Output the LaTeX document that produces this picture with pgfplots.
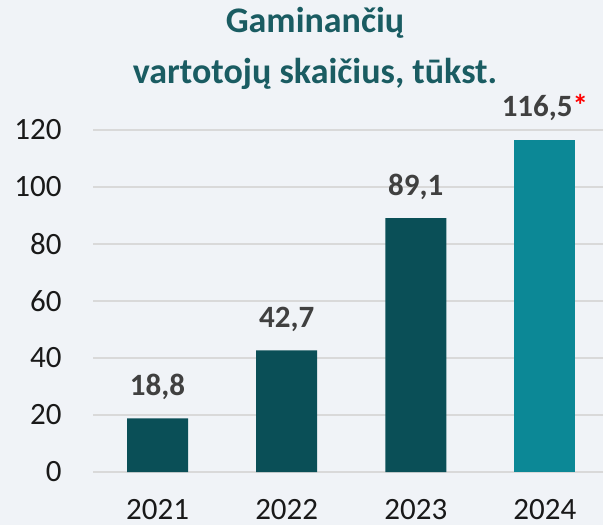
\documentclass[border=0pt]{standalone}
\usepackage{fontspec}
\setmainfont{Carlito}
\usepackage{pgfplots}
\pgfplotsset{compat=1.18}
\definecolor{bgcol}{HTML}{F0F3F7}
\definecolor{darkbar}{HTML}{0A4F57}
\definecolor{lightbar}{HTML}{0C8896}
\definecolor{titlecol}{HTML}{1A5C62}
\definecolor{labcol}{HTML}{404040}
\definecolor{gridcol}{HTML}{D9D9D9}

\begin{document}
\begin{tikzpicture}
\fill[bgcol] (0,0) rectangle (301.5pt,262.5pt);
\useasboundingbox (0,0) rectangle (301.5pt,262.5pt);
\node[font=\bfseries\fontsize{18}{25.5}\selectfont, text=titlecol, align=center]
  at (157.5pt,238.5pt) {Gaminančių\\vartotojų skaičius, tūkst.};
\begin{axis}[
  at={(46.5pt,26.5pt)}, anchor=south west,
  scale only axis, width=255pt, height=171pt,
  xmin=-0.5, xmax=3.45, ymin=0, ymax=120,
  ytick={0,20,...,120},
  xtick={0,1,2,3}, xticklabels={2021,2022,2023,2024},
  axis line style={draw=none},
  major tick style={draw=none},
  ymajorgrids, grid style={gridcol, line width=0.9pt},
  /pgf/number format/assume math mode=true,
  tick label style={font=\fontsize{15.5}{15.5}\selectfont, text=black!90},
  yticklabel style={inner sep=0pt, xshift=-15.5pt},
  xticklabel style={inner sep=0pt, yshift=-9pt},
  ybar, bar width=30.5pt, bar shift=0pt,
  nodes near coords style={font=\bfseries\fontsize{15.5}{15.5}\selectfont,
    text=labcol, anchor=base, inner sep=0pt, yshift=11.5pt},
  clip=false]
\addplot[fill=darkbar, draw=none,
  nodes near coords={\pgfmathprintnumber[fixed, fixed zerofill, precision=1, use comma]{\pgfplotspointmeta}}]
  coordinates {(0,18.8) (1,42.7) (2,89.1)};
\addplot[fill=lightbar, draw=none,
  nodes near coords={\pgfmathprintnumber[fixed, fixed zerofill, precision=1, use comma]{\pgfplotspointmeta}\textcolor{red}{*}}]
  coordinates {(3,116.5)};
\end{axis}
\end{tikzpicture}
\end{document}
